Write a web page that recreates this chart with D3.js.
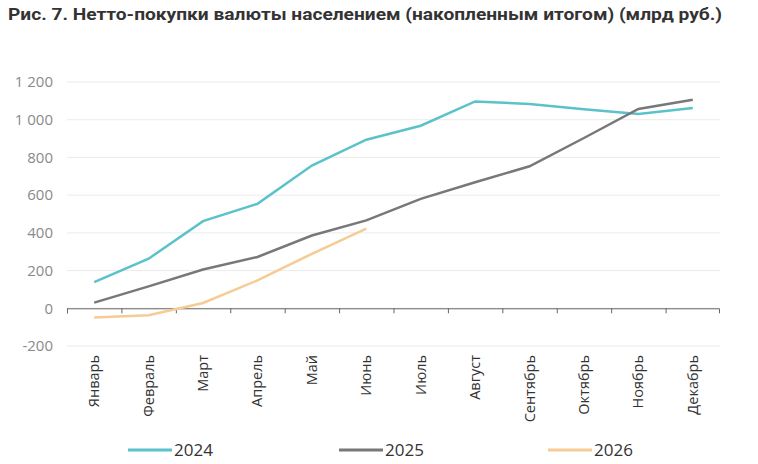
<!DOCTYPE html>
<html>
<head>
<meta charset="utf-8">
<script src="https://cdn.jsdelivr.net/npm/d3@7"></script>
<style>
  body { margin: 0; background: #fff; }
  text { font-family: "Open Sans", sans-serif; }
</style>
</head>
<body>
<div class="chart"></div>
<script>
var months = ['Январь', 'Февраль', 'Март', 'Апрель', 'Май', 'Июнь', 'Июль', 'Август', 'Сентябрь', 'Октябрь', 'Ноябрь', 'Декабрь'];
var v2024 = [139, 263, 462, 554, 757, 894, 968, 1097, 1083, 1055, 1030, 1062];
var v2025 = [30, 116, 206, 272, 386, 466, 580, 668, 753, 903, 1057, 1106];
var v2026 = [-49, -37, 28, 148, 289, 422];
var yTicks = [-200, 0, 200, 400, 600, 800, 1000, 1200];
var seriesNames = ['2024', '2025', '2026'];
var colors = ['#5cc2ca', '#78777b', '#f5cc94'];

var margin = { top: 82, right: 38, bottom: 118, left: 67 };
var width = 758 - margin.left - margin.right;
var height = 464 - margin.top - margin.bottom;

var svg = d3.select('.chart')
    .append('svg')
    .attr('width', 758)
    .attr('height', 464);

svg.append('text')
    .attr('x', 8)
    .attr('y', 20)
    .attr('textLength', 714)
    .attr('lengthAdjust', 'spacingAndGlyphs')
    .style('font-family', 'Roboto, sans-serif')
    .style('font-weight', 'bold')
    .style('font-size', '16px')
    .style('fill', '#333')
    .text('Рис. 7. Нетто-покупки валюты населением (накопленным итогом) (млрд руб.)');

var g = svg.append('g')
    .attr('transform', `translate(${margin.left}, ${margin.top})`);

var xScale = d3.scaleBand()
    .domain(months)
    .range([0, width]);

var yScale = d3.scaleLinear()
    .domain([-200, 1200])
    .range([height, 0]);

// grid
g.selectAll('.grid')
    .data(yTicks)
    .enter()
    .append('line')
    .attr('x1', 0)
    .attr('x2', width)
    .attr('y1', d => yScale(d))
    .attr('y2', d => yScale(d))
    .style('stroke', '#ebebeb')
    .style('stroke-width', 1);

// y labels
g.selectAll('.ylab')
    .data(yTicks)
    .enter()
    .append('text')
    .attr('x', -14)
    .attr('y', d => yScale(d))
    .attr('dy', '0.35em')
    .attr('text-anchor', 'end')
    .style('font-size', '15px')
    .style('fill', '#8a8a8a')
    .text(d => d3.format(',')(d).replace(',', ' ').replace('−', '-'));

// x axis at zero
var xAxis = d3.axisBottom(xScale).tickSize(5).tickFormat('');
var ax = g.append('g')
    .attr('transform', 'translate(0,' + yScale(0) + ')')
    .call(xAxis);
ax.select('.domain').style('stroke', '#666').attr('d', `M0.5,5V0.5H${width - 0.5}V5`);
ax.selectAll('.tick').attr('transform', d => `translate(${xScale(d) + 0.5},0)`);
ax.selectAll('.tick line').style('stroke', '#666');

// month labels
g.selectAll('.mlab')
    .data(months)
    .enter()
    .append('text')
    .attr('transform', d => `translate(${xScale(d) + xScale.bandwidth() / 2 + 5}, ${height + 9}) rotate(-90)`)
    .attr('text-anchor', 'end')
    .style('font-size', '14.5px')
    .style('fill', '#333')
    .text(d => d);

var line = d3.line()
    .x((d, i) => xScale(months[i]) + xScale.bandwidth() / 2)
    .y(d => yScale(d));

[v2024, v2025, v2026].forEach(function (vals, k) {
    g.append('path')
        .datum(vals)
        .attr('d', line)
        .style('fill', 'none')
        .style('stroke', colors[k])
        .style('stroke-width', 2.5);
});

// legend
var legX = [128, 339, 548];
seriesNames.forEach(function (name, k) {
    svg.append('line')
        .attr('x1', legX[k])
        .attr('x2', legX[k] + 44)
        .attr('y1', 450)
        .attr('y2', 450)
        .style('stroke', colors[k])
        .style('stroke-width', 3);
    svg.append('text')
        .attr('x', legX[k] + 46)
        .attr('y', 450)
        .attr('dy', '0.35em')
        .style('font-size', '17px')
        .style('fill', '#333')
        .text(name);
});
</script>
</body>
</html>
